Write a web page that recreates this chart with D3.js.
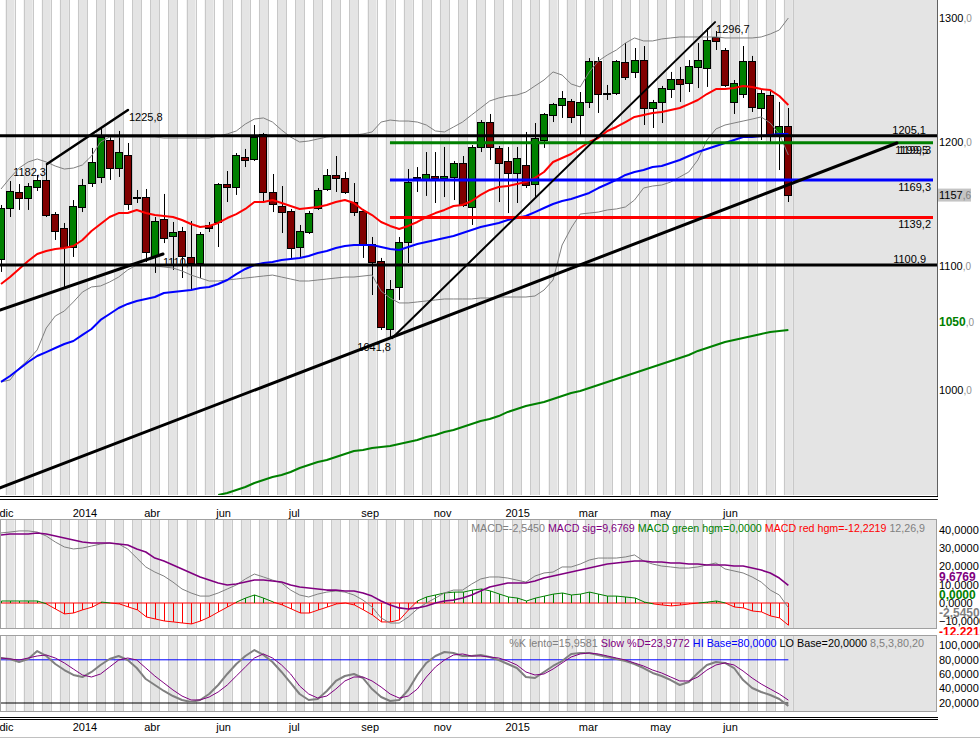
<!DOCTYPE html>
<html><head><meta charset="utf-8">
<script src="https://cdn.jsdelivr.net/npm/d3@7"></script>
<style>body{margin:0;background:#fff}svg{display:block}text{font-family:"Liberation Sans",Arial,sans-serif}</style>
</head><body><svg id="c" width="980" height="738"></svg>
<script>
// ---------- DATA (weekly candles) ----------
const opens=[1105.6,1146.8,1159.7,1154.8,1163.7,1169.4,1141.9,1130.6,1115.3,1147.6,1166.9,1171.8,1201.6,1179.0,1189.5,1154.8,1155.6,1108.1,1137.9,1124.2,1128.2,1107.3,1102.4,1133.1,1135.5,1166.1,1163.7,1187.9,1186.3,1206.5,1159.7,1148.4,1144.4,1115.3,1127.4,1146.8,1162.1,1173.4,1171.0,1151.6,1144.4,1117.7,1104.0,1049.2,1083.1,1119.4,1171.0,1170.2,1172.6,1171.0,1171.8,1183.1,1147.6,1196.0,1216.1,1195.2,1184.7,1175.0,1181.5,1166.1,1201.6,1221.8,1229.8,1233.1,1221.8,1232.3,1265.3,1238.7,1239.5,1264.5,1256.5,1266.1,1227.4,1232.3,1242.7,1250.8,1247.6,1260.5,1259.7,1284.7,1274.2,1232.3,1238.7,1265.3,1227.4,1237.9,1206.5,1212.9];
const highs=[1149.2,1168.5,1166.1,1166.9,1173.4,1182.3,1143.5,1134.7,1153.2,1170.2,1195.2,1211.3,1205.6,1208.9,1199.2,1161.3,1162.1,1139.5,1158.1,1135.5,1131.5,1136.3,1127.4,1135.5,1166.9,1176.6,1191.1,1194.4,1213.7,1207.3,1174.2,1164.5,1146.0,1133.1,1144.4,1162.9,1178.2,1188.7,1175.8,1166.9,1146.0,1123.4,1106.5,1088.7,1123.4,1178.2,1179.8,1191.9,1191.9,1196.0,1184.7,1188.7,1197.6,1217.7,1222.6,1196.8,1196.0,1196.0,1208.1,1215.3,1223.4,1231.5,1241.1,1234.7,1240.3,1267.7,1268.5,1246.0,1266.1,1279.8,1275.8,1277.4,1233.9,1245.2,1256.5,1260.5,1266.1,1279.8,1291.9,1289.5,1275.8,1250.0,1277.4,1269.4,1241.9,1241.9,1232.3,1227.4];
const lows=[1095.2,1139.5,1145.2,1145.2,1160.5,1139.5,1121.0,1083.1,1107.3,1143.5,1163.7,1166.9,1169.4,1171.8,1145.2,1150.8,1103.2,1094.4,1118.5,1096.8,1090.3,1080.6,1090.3,1127.4,1115.3,1151.6,1157.3,1179.8,1184.7,1150.8,1143.5,1126.6,1106.5,1107.3,1125.8,1145.2,1160.5,1159.7,1158.1,1140.3,1106.5,1076.6,1048.4,1041.8,1072.6,1102.4,1159.7,1156.5,1150.8,1155.6,1153.2,1147.6,1133.1,1191.9,1185.5,1151.6,1142.7,1150.8,1162.9,1154.8,1195.2,1216.1,1219.4,1215.3,1205.6,1227.4,1223.4,1233.9,1237.9,1250.0,1251.6,1213.7,1211.3,1215.3,1235.5,1232.3,1240.3,1243.5,1244.4,1274.2,1244.4,1222.6,1235.5,1224.2,1201.6,1200.0,1177.4,1151.6];
const closes=[1146.8,1160.5,1154.8,1164.5,1169.4,1141.1,1128.2,1115.3,1148.4,1165.3,1183.9,1204.0,1179.0,1191.9,1150.0,1155.6,1111.3,1136.3,1122.6,1127.4,1108.1,1102.4,1125.8,1130.6,1166.1,1163.7,1189.5,1185.5,1204.0,1159.7,1150.0,1143.5,1114.5,1128.2,1142.7,1161.3,1173.4,1171.0,1159.7,1143.5,1117.7,1103.2,1050.8,1081.5,1119.4,1167.7,1171.8,1174.2,1171.0,1172.6,1183.1,1149.2,1196.0,1216.1,1196.0,1183.1,1175.0,1187.1,1165.3,1203.2,1222.6,1230.6,1235.5,1220.2,1232.3,1265.3,1238.7,1239.5,1265.3,1252.4,1266.1,1227.4,1232.3,1243.5,1250.8,1246.8,1261.3,1266.1,1282.3,1281.5,1246.0,1247.6,1265.3,1228.2,1239.5,1205.6,1212.9,1157.6];
const maRed=[1085.5,1091.1,1097.6,1104.0,1109.7,1112.1,1113.7,1114.5,1116.1,1121.0,1128.2,1133.9,1139.5,1142.7,1142.7,1145.2,1142.7,1141.1,1140.3,1139.5,1137.1,1133.9,1131.5,1132.3,1134.7,1138.7,1141.9,1146.0,1151.6,1151.6,1153.2,1150.8,1148.4,1146.0,1146.8,1147.6,1149.2,1151.6,1153.2,1150.8,1145.2,1141.1,1135.5,1132.3,1129.8,1132.3,1135.5,1139.5,1142.7,1145.2,1148.4,1149.2,1152.4,1157.3,1161.3,1163.7,1164.5,1166.1,1167.7,1171.0,1175.8,1183.9,1187.1,1190.3,1195.2,1200.0,1203.2,1208.9,1212.1,1216.1,1220.2,1221.8,1223.4,1224.2,1225.8,1227.4,1230.6,1233.9,1238.7,1242.7,1242.7,1243.5,1245.2,1244.4,1242.7,1241.9,1237.1,1229.8];
const maBlue=[1006.5,1011.3,1016.9,1022.6,1027.4,1030.6,1033.9,1037.1,1039.5,1044.4,1049.2,1056.5,1061.3,1066.1,1069.4,1071.8,1073.4,1075.0,1078.2,1079.0,1079.8,1080.6,1082.3,1083.1,1085.5,1088.7,1093.5,1097.6,1100.8,1102.4,1103.2,1104.8,1105.6,1106.5,1108.1,1110.5,1112.1,1114.5,1116.1,1116.9,1116.9,1116.9,1115.3,1113.7,1112.9,1115.3,1117.7,1119.4,1121.0,1122.6,1124.2,1126.6,1129.0,1131.5,1133.1,1134.7,1137.1,1138.7,1140.3,1143.5,1146.8,1150.0,1152.4,1154.0,1156.5,1158.9,1162.9,1166.1,1169.4,1173.4,1175.8,1177.4,1179.8,1180.6,1183.1,1185.5,1188.7,1191.9,1194.4,1196.8,1199.2,1201.6,1204.0,1204.0,1204.8,1205.6,1206.5,1206.5];
const maGreenStart=24;
const maGreen=[915.3,916.9,919.4,921.8,925.0,927.4,929.8,931.5,933.9,937.1,939.5,941.9,943.5,946.0,948.4,950.8,951.6,953.2,954.0,954.8,956.5,958.1,959.7,962.1,963.7,966.1,967.7,970.2,972.6,975.0,976.6,979.0,982.3,984.7,987.1,988.7,990.3,992.7,995.2,997.6,999.2,1001.6,1004.0,1006.5,1008.9,1011.3,1013.7,1016.1,1018.5,1021.0,1023.4,1025.8,1028.2,1031.5,1033.9,1036.3,1038.7,1040.3,1041.9,1043.5,1045.2,1046.8,1047.6,1048.4];
const bbUpper=[1162.1,1171.0,1179.0,1183.9,1186.3,1183.9,1180.6,1178.2,1179.0,1181.5,1188.7,1200.0,1204.0,1204.0,1204.0,1204.0,1204.0,1204.0,1203.2,1203.2,1203.2,1203.2,1203.2,1203.2,1204.8,1206.5,1208.9,1214.5,1218.5,1219.4,1216.1,1209.7,1204.0,1200.0,1200.8,1202.4,1204.0,1204.8,1205.6,1205.6,1206.5,1208.1,1216.1,1217.7,1216.9,1216.9,1216.1,1213.7,1208.9,1208.1,1212.1,1216.1,1221.8,1227.4,1233.1,1235.5,1237.1,1237.9,1240.3,1245.2,1250.0,1256.5,1254.0,1246.8,1244.4,1256.5,1265.3,1270.2,1274.2,1279.8,1283.9,1281.5,1281.5,1283.1,1283.9,1284.7,1284.7,1284.7,1284.7,1284.7,1283.9,1283.9,1283.9,1283.9,1284.7,1287.1,1290.3,1300.0];
const bbLower=[1006.5,1008.1,1017.7,1024.2,1032.3,1050.0,1059.7,1063.7,1071.0,1079.0,1083.1,1083.9,1087.1,1091.1,1096.8,1100.8,1100.8,1100.0,1099.2,1098.4,1096.0,1092.7,1090.3,1087.9,1087.9,1088.7,1089.5,1090.3,1091.1,1091.9,1092.7,1091.1,1089.5,1087.9,1087.9,1088.7,1089.5,1090.3,1091.1,1091.1,1091.9,1092.7,1079.8,1074.2,1070.2,1070.2,1071.0,1071.8,1072.6,1073.4,1073.4,1073.4,1073.4,1074.2,1074.2,1075.0,1075.0,1075.0,1075.0,1075.8,1080.6,1088.7,1116.9,1130.6,1141.9,1142.7,1143.5,1145.2,1146.0,1147.6,1153.2,1162.9,1164.5,1165.3,1167.7,1171.8,1175.8,1185.5,1201.6,1210.5,1213.7,1215.3,1216.9,1218.5,1220.2,1215.3,1206.5,1189.5];
const macd=[38.5,39.0,39.6,39.6,39.0,36.8,33.5,30.8,29.7,30.2,31.3,32.4,33.0,32.4,29.7,24.7,19.8,17.0,14.8,11.5,7.7,5.5,3.8,3.8,5.5,7.7,9.9,13.2,15.9,14.3,12.6,11.0,7.1,4.4,3.3,4.9,6.0,6.6,6.0,4.4,1.6,-2.2,-8.2,-11.0,-11.0,-7.7,-3.3,0.0,2.7,5.5,7.1,7.1,10.4,13.2,14.3,14.3,13.7,12.6,11.5,14.8,16.5,17.0,19.8,19.8,21.4,23.6,24.7,24.7,24.7,25.3,26.4,23.1,21.4,20.3,19.8,19.2,19.2,19.8,20.9,22.0,18.7,17.6,16.5,14.3,11.5,7.1,4.4,-2.545];
const macdSig=[37.4,37.9,37.9,37.9,38.5,37.9,36.8,35.7,34.6,33.5,33.0,33.0,33.0,32.4,31.9,29.7,28.0,24.7,23.1,20.9,18.7,16.5,14.3,12.6,11.0,9.9,10.4,11.5,12.6,12.6,12.1,11.5,9.9,8.8,8.2,7.7,7.1,7.1,6.6,6.6,5.5,3.8,1.1,-1.1,-2.7,-3.3,-2.7,-1.6,0.0,1.1,1.6,2.7,4.4,6.6,8.8,9.9,11.0,11.0,11.0,12.1,13.7,14.8,15.9,17.0,18.1,19.2,20.3,21.4,22.0,22.5,23.1,23.1,22.5,22.5,22.0,22.0,21.4,21.4,20.9,20.9,20.9,20.3,20.3,19.2,18.1,16.5,13.7,9.677];
const macdHist=[1.1,1.1,1.1,1.1,1.1,-0.5,-3.3,-6.0,-5.5,-3.8,-2.2,0.5,0.0,-0.5,-2.2,-3.8,-7.7,-8.8,-9.9,-10.4,-11.0,-11.5,-9.9,-7.7,-4.9,-2.2,0.5,2.7,4.4,2.7,0.5,-1.1,-3.3,-5.5,-5.5,-3.8,-2.2,-0.5,0.0,-1.1,-3.8,-6.6,-10.4,-10.4,-9.3,-3.8,1.1,3.3,4.4,5.5,6.0,6.0,7.1,7.7,6.6,4.9,3.3,2.7,1.1,2.7,3.8,4.9,5.5,4.4,4.9,6.0,4.9,3.8,3.8,3.3,2.7,0.5,-0.5,-1.1,-1.6,-1.1,-0.5,0.0,0.5,1.1,0.0,-2.2,-2.7,-4.4,-4.9,-7.1,-8.2,-12.2219];
const stochK=[82.5,81.1,76.9,81.1,92.2,85.3,74.2,65.8,58.9,56.1,63.1,72.8,81.1,85.3,79.7,68.6,53.3,45.0,36.7,29.7,24.2,21.4,24.2,32.5,45.0,60.3,74.2,85.3,93.6,86.7,76.9,63.1,47.8,32.5,24.2,25.6,36.7,50.6,57.5,60.3,54.7,39.4,28.3,22.8,24.2,38.1,58.9,75.6,85.3,90.8,89.4,85.3,85.3,86.7,83.9,79.7,74.2,68.6,56.1,54.7,63.1,71.4,78.3,88.1,89.4,89.4,86.7,83.9,81.1,78.3,74.2,68.6,61.7,57.5,51.9,45.0,49.2,61.7,72.8,76.9,75.6,68.6,51.9,40.8,35.3,31.1,25.6,15.9581];
const stochD=[82.5,81.1,79.7,82.5,85.3,86.7,82.5,75.6,67.2,58.9,56.1,60.3,70.0,79.7,82.5,79.7,68.6,57.5,47.8,38.1,29.7,24.2,24.2,28.3,35.3,45.0,57.5,70.0,82.5,88.1,82.5,72.8,60.3,43.6,32.5,26.9,29.7,39.4,50.6,56.1,56.1,50.6,42.2,32.5,26.9,29.7,39.4,56.1,70.0,79.7,86.7,88.1,85.3,85.3,83.9,82.5,78.3,72.8,63.1,58.9,60.3,67.2,75.6,83.9,88.1,89.4,88.1,85.3,82.5,79.7,75.6,71.4,65.8,61.7,56.1,50.6,50.6,56.1,65.8,72.8,75.6,72.8,64.4,54.7,46.4,39.4,32.5,23.9772];
const dateLabels=["dic","2014","abr","jun","jul","sep","nov","2015","mar","may","jun"];
const dateIdx=[0.61,9.28,16.7,24.6,32.4,40.8,48.8,57.1,64.9,72.9,80.6];
const priceTicks=[1000,1100,1200,1300];
const macdTicks=[40,30,20,10,0,-10];
const stochTicks=[100,80,60,40,20];
// trend lines [idx1,val1,idx2,val2]
const trendLines=[[-0.11,921.0,99.0,1199.2],[-0.11,1064.5,17.9,1109.7],[5.08,1182.3,14.03,1225.8],[43.2,1041.8,78.9,1296.7]];
const trendWidths=[3,3,2.5,2];
const trendLabels=[["1182,3",5.08,1182.3],["1225,8",14.03,1225.8],["1041,8",43.2,1041.8],["1296,7",78.9,1296.7],["1110,2",17.9,1109.7]];
// horizontal levels
const levelVals=[1205.1,1100.9,1199.3,1169.3,1139.2];
const levelNames=["1205,1","1100,9","1199,5","1169,3","1139,2"];
const levelColors=["#000","#000","#008000","#0000ff","#ff0000"];
const levelFrom=[-1,-1,42.98,42.98,42.98];

// ---------- SCALES ----------
const N=closes.length;
const xs=d3.scaleLinear().domain([0,87]).range([1,788.35]);
const ys=d3.scaleLinear().domain([1000,1300]).range([390,18]);
const ym=d3.scaleLinear().domain([-10,40]).range([621.2,530.2]);
const yk=d3.scaleLinear().domain([20,100]).range([703,645.4]);
const half=(xs(1)-xs(0))/2;
const PR=937;

const svg=d3.select('#c');
const defs=svg.append('defs');
defs.append('clipPath').attr('id','cm').append('rect').attr('x',0).attr('y',0).attr('width',PR).attr('height',495);
defs.append('clipPath').attr('id','cd').append('rect').attr('x',0).attr('y',520).attr('width',936).attr('height',108);
defs.append('clipPath').attr('id','cs').append('rect').attr('x',0).attr('y',636).attr('width',936).attr('height',75);
defs.append('clipPath').attr('id','cl').append('rect').attr('x',900).attr('y',520).attr('width',80).attr('height',115);

function stripes(g,y0,y1,xr){
  g.append('rect').attr('x',0).attr('y',y0).attr('width',xr).attr('height',y1-y0).attr('fill','#fff');
  g.append('rect').attr('x',xs(N-1)+half).attr('y',y0).attr('width',xr-xs(N-1)-half).attr('height',y1-y0).attr('fill','#e4e4e4');
  g.selectAll(null).data(d3.range(N).filter(i=>i%2===1)).enter().append('rect')
    .attr('x',i=>xs(i)-half).attr('y',y0).attr('width',2*half).attr('height',y1-y0).attr('fill','#e4e4e4');
  g.selectAll(null).data(d3.range(N+1)).enter().append('line')
    .attr('x1',i=>Math.round(xs(i)-half)+0.5).attr('x2',i=>Math.round(xs(i)-half)+0.5)
    .attr('y1',y0).attr('y2',y1).attr('stroke','#c8c8c8').attr('stroke-width',1);
}
function linePath(g,vals,yScale,start,color,w){
  const ln=d3.line().x((d,i)=>xs(i+start)).y(d=>yScale(d));
  g.append('path').attr('d',ln(vals)).attr('fill','none').attr('stroke',color).attr('stroke-width',w).attr('stroke-linejoin','round');
}

// ---------- MAIN PANEL ----------
const main=svg.append('g').attr('clip-path','url(#cm)');
stripes(main,0,495,PR);
// trend labels under candles
trendLabels.forEach(t=>{
  const tx=main.append('text').attr('font-size',11).attr('fill','#000').text(t[0]);
  if(t[0]==="1182,3") tx.attr('x',xs(t[1])-1).attr('y',ys(t[2])+12).attr('text-anchor','end');
  else if(t[0]==="1041,8") tx.attr('x',xs(t[1])-1).attr('y',ys(t[2])+13).attr('text-anchor','end');
  else if(t[0]==="1110,2") tx.attr('x',xs(t[1])).attr('y',ys(t[2])+12);
  else tx.attr('x',xs(t[1])+1).attr('y',ys(t[2])+11);
});
// candles
const cg=main.append('g');
d3.range(N).forEach(i=>{
  const cx=Math.round(xs(i));
  cg.append('line').attr('x1',cx+0.5).attr('x2',cx+0.5).attr('y1',ys(highs[i])).attr('y2',ys(lows[i])).attr('stroke','#000').attr('stroke-width',1);
  const top=ys(Math.max(opens[i],closes[i])), bot=ys(Math.min(opens[i],closes[i]));
  cg.append('rect').attr('x',cx-3.5).attr('y',Math.round(top)+0.5).attr('width',7).attr('height',Math.max(1,Math.round(bot-top)))
    .attr('fill',closes[i]>=opens[i]?'#008000':'#800000').attr('stroke','#000').attr('stroke-width',1);
});
// bands and MAs
linePath(main,bbUpper,ys,0,'#808080',1);
linePath(main,bbLower,ys,0,'#808080',1);
linePath(main,maGreen,ys,maGreenStart,'#008000',2);
linePath(main,maBlue,ys,0,'#0000ff',2);
linePath(main,maRed,ys,0,'#ff0000',2);
// horizontal levels
levelVals.forEach((v,k)=>{
  const x1=levelFrom[k]<0?0:xs(levelFrom[k]);
  const x2=levelFrom[k]<0?PR:933;
  main.append('line').attr('x1',x1).attr('x2',x2).attr('y1',ys(v)).attr('y2',ys(v)).attr('stroke',levelColors[k]).attr('stroke-width',3);
});
// trend lines
trendLines.forEach((t,k)=>{
  main.append('line').attr('x1',xs(t[0])).attr('y1',ys(t[1])).attr('x2',xs(t[2])).attr('y2',ys(t[3]))
    .attr('stroke','#000').attr('stroke-width',trendWidths[k]).attr('stroke-linecap','round');
});
// level labels
levelVals.forEach((v,k)=>{
  const above=(k<2);
  main.append('text').attr('font-size',11).attr('text-anchor','end')
    .attr('x',above?926:(k===2?928:931)).attr('y',above?ys(v)-2:ys(v)+11).text(levelNames[k]);
});
main.append('text').attr('font-size',11).attr('text-anchor','end').attr('x',931).attr('y',ys(1199.3)+11).text("1199,3");

// frame main
svg.append('line').attr('x1',PR+0.5).attr('x2',PR+0.5).attr('y1',0).attr('y2',496).attr('stroke','#606060');
[496.5,499.5].forEach(y=>svg.append('line').attr('x1',0).attr('x2',PR+1).attr('y1',y).attr('y2',y).attr('stroke','#000'));

// price axis
priceTicks.forEach(v=>{
  const t=svg.append('text').attr('x',939).attr('y',ys(v)).attr('dy','0.35em').attr('font-size',11);
  t.append('tspan').attr('fill','#000').text(String(v));
  t.append('tspan').attr('fill','#909090').attr('font-size',10).text(',0');
});
{
  const t=svg.append('text').attr('x',939).attr('y',322).attr('dy','0.35em').attr('font-size',12).attr('font-weight','bold');
  t.append('tspan').attr('fill','#008000').text('1050');
  t.append('tspan').attr('fill','#909090').attr('font-size',10).attr('font-weight','normal').text(',0');
  svg.append('rect').attr('x',938).attr('y',ys(closes[N-1])-6).attr('width',33).attr('height',13).attr('fill','#c4c4c4');
  const c=svg.append('text').attr('x',939).attr('y',ys(closes[N-1])+0.5).attr('dy','0.35em').attr('font-size',11);
  c.append('tspan').attr('fill','#000').text('1157');
  c.append('tspan').attr('fill','#808080').attr('font-size',10).text(',6');
}

// date labels
[513,727].forEach(y=>{
  dateLabels.forEach((l,k)=>svg.append('text').attr('x',xs(dateIdx[k])).attr('y',y).attr('dy','0.35em').attr('text-anchor','middle').attr('font-size',11).text(l));
});

// ---------- MACD PANEL ----------
const mp=svg.append('g').attr('clip-path','url(#cd)');
stripes(mp,520,628,936);
mp.append('line').attr('x1',0).attr('x2',xs(N-1)).attr('y1',ym(0)).attr('y2',ym(0)).attr('stroke','#ff0000').attr('stroke-width',1);
macdHist.forEach((h,i)=>{
  const cx=Math.round(xs(i))+0.5;
  mp.append('line').attr('x1',cx).attr('x2',cx).attr('y1',ym(0)).attr('y2',ym(h)).attr('stroke',h>=0?'#008000':'#ff0000').attr('stroke-width',1);
  if(i<N-1){
    const h2=macdHist[i+1];
    mp.append('line').attr('x1',cx).attr('x2',Math.round(xs(i+1))+0.5).attr('y1',ym(h)).attr('y2',ym(h2))
      .attr('stroke',(h+h2)/2>=0?'#008000':'#ff0000').attr('stroke-width',1);
  }
});
linePath(mp,macd,ym,0,'#808080',1);
linePath(mp,macdSig,ym,0,'#800080',1.6);
svg.append('rect').attr('x',0.5).attr('y',519.5).attr('width',936).attr('height',109).attr('fill','none').attr('stroke','#a0a0a0');
// header
function header(parts,y,xEnd,targetW){
  const t=svg.append('text').attr('x',xEnd).attr('y',y).attr('dy','0.35em').attr('text-anchor','end').attr('font-size',11);
  parts.forEach((p,k)=>t.append('tspan').attr('fill',p[1]).text((k?' ':'')+p[0]));
  const w=t.node().getComputedTextLength();
  if(w>0) t.attr('font-size',11*targetW/w);
}
header([["MACD=-2,5450","#808080"],["MACD sig=9,6769","#800080"],["MACD green hgm=0,0000","#008000"],["MACD red hgm=-12,2219","#ff0000"],["12,26,9","#808080"]],528,925,454);
macdTicks.forEach(v=>{
  svg.append('text').attr('x',939).attr('y',ym(v)).attr('dy','0.35em').attr('font-size',11).text(d3.format('.4f')(v).replace('.',',').replace('-','-'));
});
const hl=svg.append('g').attr('clip-path','url(#cl)');
[[ "9,6769","#800080",577],["0,0000","#008000",595],["-2,5450","#808080",613],["-12,2219","#ff0000",632]].forEach(d=>{
  hl.append('text').attr('x',939).attr('y',d[2]).attr('dy','0.35em').attr('font-size',12).attr('font-weight','bold').attr('fill',d[1]).text(d[0]);
});

// ---------- STOCH PANEL ----------
const sp=svg.append('g').attr('clip-path','url(#cs)');
stripes(sp,636,711,936);
sp.append('line').attr('x1',0).attr('x2',xs(N-1)).attr('y1',yk(80)).attr('y2',yk(80)).attr('stroke','#0000ff').attr('stroke-width',1);
sp.append('line').attr('x1',0).attr('x2',xs(N-1)).attr('y1',yk(20)).attr('y2',yk(20)).attr('stroke','#000').attr('stroke-width',1);
linePath(sp,stochK,yk,0,'#808080',2);
linePath(sp,stochD,yk,0,'#800080',1);
svg.append('rect').attr('x',0.5).attr('y',635.5).attr('width',936).attr('height',76).attr('fill','none').attr('stroke','#a0a0a0');
header([["%K lento=15,9581","#808080"],["Slow %D=23,9772","#800080"],["HI Base=80,0000","#0000ff"],["LO Base=20,0000","#000"],["8,5,3,80,20","#808080"]],643,924,415);
stochTicks.forEach(v=>{
  svg.append('text').attr('x',939).attr('y',yk(v)).attr('dy','0.35em').attr('font-size',11).text(d3.format('.4f')(v).replace('.',','));
});
[717.5,719.5].forEach(y=>svg.append('line').attr('x1',0).attr('x2',PR+1).attr('y1',y).attr('y2',y).attr('stroke','#000'));
svg.append('line').attr('x1',0).attr('x2',980).attr('y1',737.5).attr('y2',737.5).attr('stroke','#c0c0c0');
</script></body></html>
